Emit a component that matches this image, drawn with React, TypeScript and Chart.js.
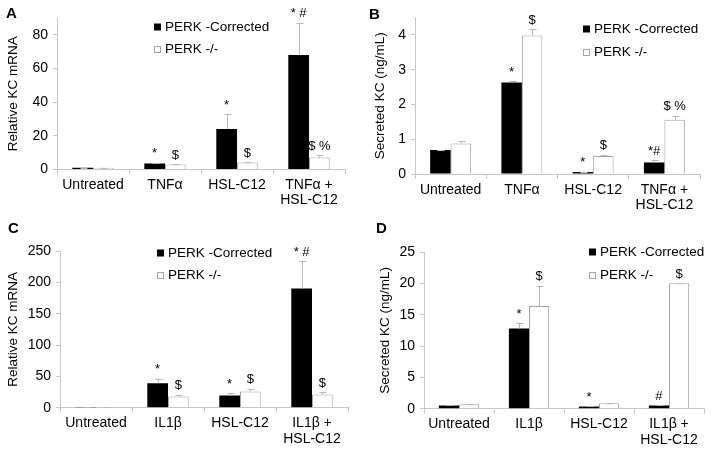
import React, { useEffect, useRef } from "react";
import { Chart, registerables } from "chart.js";

Chart.register(...registerables);

// ---------- data ----------
const seriesNames = ["PERK -Corrected", "PERK -/-"];
const categoriesTNF: (string | string[])[] = ["Untreated", "TNFα", "HSL-C12", ["TNFα +", "HSL-C12"]];
const categoriesIL1: (string | string[])[] = ["Untreated", "IL1β", "HSL-C12", ["IL1β +", "HSL-C12"]];

// Panel A: Relative KC mRNA (TNFα)
const aCorrected = [1, 3.6, 24, 68];
const aCorrectedErr = [0.1, 0.4, 8.7, 19.3];
const aKnockout = [1, 3, 4.2, 7.1];
const aKnockoutErr = [0.1, 0.2, 0.3, 1.4];
const aCorrectedMarks = ["", "*", "*", "* #"];
const aKnockoutMarks = ["", "$", "$", "$ %"];
const aTicks = [0, 20, 40, 60, 80];
const aMax = 90;

// Panel B: Secreted KC (ng/mL) (TNFα)
const bCorrected = [0.69, 2.63, 0.06, 0.33];
const bCorrectedErr = [0.01, 0.03, 0.01, 0.07];
const bKnockout = [0.88, 3.98, 0.52, 1.56];
const bKnockoutErr = [0.08, 0.18, 0.03, 0.11];
const bCorrectedMarks = ["", "*", "*", "*#"];
const bKnockoutMarks = ["", "$", "$", "$ %"];
const bTicks = [0, 1, 2, 3, 4];
const bMax = 4.5;

// Panel C: Relative KC mRNA (IL1β)
const cCorrected = [1, 39, 19.5, 190];
const cCorrectedErr = [0.2, 7, 4, 44];
const cKnockout = [1, 18, 26, 21];
const cKnockoutErr = [0.2, 3, 4.5, 4];
const cCorrectedMarks = ["", "*", "*", "* #"];
const cKnockoutMarks = ["", "$", "$", "$"];
const cTicks = [0, 50, 100, 150, 200, 250];
const cMax = 250;

// Panel D: Secreted KC (ng/mL) (IL1β)
const dCorrected = [0.5, 12.8, 0.37, 0.5];
const dCorrectedErr = [0.02, 0.8, 0.02, 0.02];
const dKnockout = [0.7, 16.4, 0.85, 20];
const dKnockoutErr = [0.02, 3.2, 0.03, 0.05];
const dCorrectedMarks = ["", "*", "*", "#"];
const dKnockoutMarks = ["", "$", "", "$"];
const dTicks = [0, 5, 10, 15, 20, 25];
const dMax = 25;

// ---------- styling ----------
const FONT = "'Liberation Sans', Arial, sans-serif";
const AXIS = "#c8c8c8";
const ERR = "#b8b8b8";
const WHITE_BORDER = "#a6a6a6";

type Panel = {
  categories: (string | string[])[];
  corrected: number[];
  correctedErr: number[];
  correctedMarks: string[];
  knockout: number[];
  knockoutErr: number[];
  knockoutMarks: string[];
  ticks: number[];
  max: number;
  yTitle: string;
  area: { left: number; right: number; top: number; bottom: number };
  titleOffset: number;
  legendX: number;
  legendY: number[];
  width: number;
  height: number;
};

const overlayPlugin = {
  id: "overlay",
  afterDatasetsDraw(chart: any) {
    const ctx = chart.ctx;
    const yScale = chart.scales.y;
    chart.data.datasets.forEach((ds: any, i: number) => {
      const meta = chart.getDatasetMeta(i);
      meta.data.forEach((bar: any, j: number) => {
        const v = ds.data[j];
        const e = ds.errors[j];
        let topY = bar.y;
        if (e > 0) {
          const ey = yScale.getPixelForValue(v + e);
          const x = Math.round(bar.x) + 0.5;
          const cy = Math.round(ey) + 0.5;
          ctx.save();
          ctx.strokeStyle = ERR;
          ctx.lineWidth = 1;
          ctx.beginPath();
          ctx.moveTo(x, bar.y);
          ctx.lineTo(x, cy);
          ctx.moveTo(x - 3, cy);
          ctx.lineTo(x + 4, cy);
          ctx.stroke();
          ctx.restore();
          topY = ey;
        }
        const m = ds.marks[j];
        if (m) {
          ctx.save();
          ctx.fillStyle = "#000";
          ctx.font = `13px ${FONT}`;
          ctx.textAlign = "center";
          ctx.textBaseline = "middle";
          ctx.fillText(m, bar.x, topY - 9);
          ctx.restore();
        }
      });
    });
  },
  afterDraw(chart: any, _args: any, opts: any) {
    const ctx = chart.ctx;
    const { x, ys } = opts;
    chart.data.datasets.forEach((ds: any, i: number) => {
      const y = ys[i];
      ctx.save();
      if (i === 0) {
        ctx.fillStyle = "#000";
        ctx.fillRect(x, y - 3.5, 7, 7);
      } else {
        ctx.fillStyle = "#fff";
        ctx.fillRect(x, y - 3.5, 7, 7);
        ctx.strokeStyle = WHITE_BORDER;
        ctx.lineWidth = 1;
        ctx.strokeRect(x + 0.5, Math.round(y - 3.5) + 0.5, 6, 6);
      }
      ctx.fillStyle = "#000";
      ctx.font = `13.5px ${FONT}`;
      ctx.textAlign = "left";
      ctx.textBaseline = "middle";
      ctx.fillText(ds.label, x + 11, y + 0.5);
      ctx.restore();
    });
  },
};

function ChartPanel({ p, style }: { p: Panel; style: React.CSSProperties }) {
  const ref = useRef<HTMLCanvasElement | null>(null);
  useEffect(() => {
    if (!ref.current) return;
    const chart = new Chart(ref.current, {
      type: "bar",
      data: {
        labels: p.categories as any,
        datasets: [
          {
            label: seriesNames[0],
            data: p.corrected,
            backgroundColor: "#000",
            borderWidth: 0,
            errors: p.correctedErr,
            marks: p.correctedMarks,
          } as any,
          {
            label: seriesNames[1],
            data: p.knockout,
            backgroundColor: "#fff",
            borderColor: WHITE_BORDER,
            borderWidth: 1,
            errors: p.knockoutErr,
            marks: p.knockoutMarks,
          } as any,
        ],
      },
      options: {
        responsive: false,
        animation: false,
        events: [],
        layout: {
          padding: {
            left: 0,
            top: p.area.top,
            right: p.width - p.area.right,
            bottom: 0,
          },
        },
        datasets: {
          bar: { categoryPercentage: 0.575, barPercentage: 1 },
        },
        plugins: {
          legend: { display: false },
          tooltip: { enabled: false },
          overlay: { x: p.legendX, ys: p.legendY },
        } as any,
        scales: {
          x: {
            grid: {
              display: true,
              drawOnChartArea: false,
              drawTicks: true,
              tickLength: 5,
              offset: true,
              color: AXIS,
            },
            border: { display: true, color: AXIS },
            ticks: {
              color: "#000",
              font: { family: FONT, size: 14, lineHeight: 1.1 },
              padding: 3,
              maxRotation: 0,
              minRotation: 0,
              autoSkip: false,
            },
            afterFit: (scale: any) => {
              scale.height = p.height - p.area.bottom;
            },
          },
          y: {
            min: 0,
            max: p.max,
            grid: {
              display: true,
              drawOnChartArea: false,
              drawTicks: true,
              tickLength: 4,
              color: AXIS,
            },
            border: { display: true, color: AXIS },
            ticks: {
              color: "#000",
              font: { family: FONT, size: 14 },
              padding: 5,
            },
            afterBuildTicks: (scale: any) => {
              scale.ticks = p.ticks.map((v) => ({ value: v }));
            },
            title: {
              display: true,
              text: p.yTitle,
              color: "#000",
              font: { family: FONT, size: 13.5 },
              padding: { top: p.titleOffset, bottom: 0 },
            },
            afterFit: (scale: any) => {
              scale.width = p.area.left;
            },
          },
        },
      },
      plugins: [overlayPlugin as any],
    });
    return () => chart.destroy();
  }, [p]);
  return (
    <canvas
      ref={ref}
      width={p.width}
      height={p.height}
      style={{ position: "absolute", display: "block", ...style }}
    />
  );
}

const panelA: Panel = {
  categories: categoriesTNF,
  corrected: aCorrected,
  correctedErr: aCorrectedErr,
  correctedMarks: aCorrectedMarks,
  knockout: aKnockout,
  knockoutErr: aKnockoutErr,
  knockoutMarks: aKnockoutMarks,
  ticks: aTicks,
  max: aMax,
  yTitle: "Relative KC mRNA",
  area: { left: 57, right: 345, top: 18, bottom: 169.5 },
  titleOffset: 5,
  legendX: 154,
  legendY: [27, 49],
  width: 357,
  height: 226,
};
const panelB: Panel = {
  categories: categoriesTNF,
  corrected: bCorrected,
  correctedErr: bCorrectedErr,
  correctedMarks: bCorrectedMarks,
  knockout: bKnockout,
  knockoutErr: bKnockoutErr,
  knockoutMarks: bKnockoutMarks,
  ticks: bTicks,
  max: bMax,
  yTitle: "Secreted KC (ng/mL)",
  area: { left: 58, right: 343, top: 17.5, bottom: 174 },
  titleOffset: 15,
  legendX: 226,
  legendY: [29, 52],
  width: 357,
  height: 226,
};
const panelC: Panel = {
  categories: categoriesIL1,
  corrected: cCorrected,
  correctedErr: cCorrectedErr,
  correctedMarks: cCorrectedMarks,
  knockout: cKnockout,
  knockoutErr: cKnockoutErr,
  knockoutMarks: cKnockoutMarks,
  ticks: cTicks,
  max: cMax,
  yTitle: "Relative KC mRNA",
  area: { left: 60, right: 348, top: 25, bottom: 181.7 },
  titleOffset: 5,
  legendX: 157,
  legendY: [27, 49],
  width: 357,
  height: 227,
};
const panelD: Panel = {
  categories: categoriesIL1,
  corrected: dCorrected,
  correctedErr: dCorrectedErr,
  correctedMarks: dCorrectedMarks,
  knockout: dKnockout,
  knockoutErr: dKnockoutErr,
  knockoutMarks: dKnockoutMarks,
  ticks: dTicks,
  max: dMax,
  yTitle: "Secreted KC (ng/mL)",
  area: { left: 67, right: 347, top: 26, bottom: 182.7 },
  titleOffset: 20,
  legendX: 232,
  legendY: [26, 49],
  width: 357,
  height: 227,
};

const letterStyle: React.CSSProperties = {
  position: "absolute",
  fontFamily: FONT,
  fontWeight: "bold",
  fontSize: 15,
  lineHeight: 1,
  color: "#000",
};

export default function App() {
  return (
    <div
      style={{
        position: "fixed",
        left: 0,
        top: 0,
        width: 714,
        height: 453,
        background: "#fff",
        overflow: "hidden",
      }}
    >
      <ChartPanel p={panelA} style={{ left: 0, top: 0 }} />
      <ChartPanel p={panelB} style={{ left: 357, top: 0 }} />
      <ChartPanel p={panelC} style={{ left: 0, top: 226 }} />
      <ChartPanel p={panelD} style={{ left: 357, top: 226 }} />
      <div style={{ ...letterStyle, left: 6, top: 5 }}>A</div>
      <div style={{ ...letterStyle, left: 369, top: 6 }}>B</div>
      <div style={{ ...letterStyle, left: 8, top: 220 }}>C</div>
      <div style={{ ...letterStyle, left: 376, top: 220 }}>D</div>
    </div>
  );
}
